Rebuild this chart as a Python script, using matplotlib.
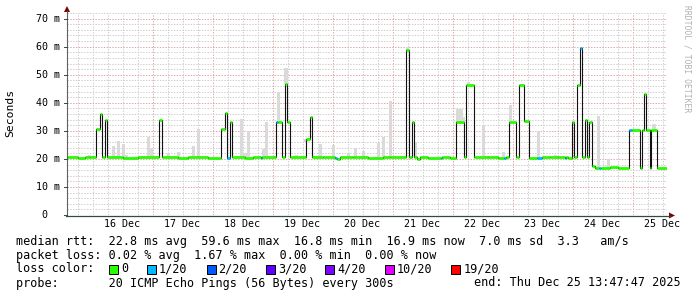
import numpy as np
import matplotlib.pyplot as plt
from matplotlib.patches import Rectangle, Polygon

plt.rcParams['font.family'] = ['DejaVu Sans Mono', 'DejaVu Sans']

# hours since Dec 15 00:00, graph window ends Thu Dec 25 13:47:47
t_start = 13.8
t_end = 253.8

# median rtt (ms) as steps: start hour, value, loss level index
seg_t = [13.8, 18.0, 21.0, 23.0, 25.5, 27.0, 27.7, 29.0, 29.7, 36.0,
         42.0, 50.7, 51.7, 58.0, 62.0, 70.0, 75.4, 77.0, 77.7, 79.0,
         79.7, 85.0, 88.0, 91.2, 91.8, 97.4, 98.3, 99.7, 101.0, 101.7,
         103.0, 109.4, 111.0, 111.7, 116.0, 120.8, 121.6, 123.1, 128.0, 134.0,
         140.0, 143.0, 149.4, 150.7, 151.7, 152.7, 153.7, 155.1, 158.0, 163.2,
         163.8, 167.0, 169.4, 172.7, 173.4, 176.7, 182.0, 186.0, 188.7, 189.3,
         190.7, 193.4, 194.7, 196.7, 198.7, 201.7, 203.7, 207.0, 210.0, 212.8,
         213.4, 214.0, 215.7, 216.7, 217.7, 219.0, 219.7, 221.0, 221.7, 222.7,
         223.7, 225.0, 226.7, 227.3, 231.0, 234.0, 238.7, 239.7, 243.0, 243.7,
         244.7, 245.4, 247.0, 247.4, 249.7]
seg_ms = [20.6, 20.4, 20.7, 20.5, 30.6, 36.1, 20.5, 33.7, 20.6, 20.4,
          20.6, 33.7, 20.5, 20.3, 20.6, 20.4, 30.6, 36.5, 20.3, 33.0,
          20.5, 20.3, 20.6, 20.3, 20.6, 33.3, 33.3, 20.5, 46.7, 33.3,
          20.5, 27.0, 35.1, 20.5, 20.7, 20.4, 20.0, 20.5, 20.7, 20.4,
          20.7, 20.5, 58.9, 20.5, 33.3, 20.5, 20.0, 20.6, 20.4, 20.3,
          20.6, 20.2, 33.3, 20.5, 46.4, 20.5, 20.7, 20.4, 20.3, 20.5,
          33.1, 20.5, 46.4, 33.6, 20.4, 20.3, 20.5, 20.7, 20.5, 20.3,
          20.6, 20.4, 33.3, 20.5, 46.4, 59.5, 20.5, 33.7, 20.5, 33.3,
          17.5, 16.9, 16.8, 16.9, 17.1, 16.9, 30.4, 30.2, 16.9, 30.2,
          43.1, 30.2, 16.9, 30.2, 16.9]
seg_loss = [0, 0, 0, 0, 0, 0, 0, 0, 0, 0,
            0, 0, 0, 0, 0, 0, 0, 0, 1, 0,
            0, 0, 0, 1, 0, 1, 0, 0, 0, 0,
            0, 0, 0, 0, 0, 1, 0, 0, 0, 0,
            0, 0, 0, 0, 0, 0, 0, 0, 0, 1,
            0, 0, 0, 0, 0, 0, 0, 0, 1, 0,
            0, 0, 0, 0, 0, 1, 0, 0, 0, 1,
            0, 0, 0, 0, 0, 1, 0, 0, 0, 0,
            0, 0, 1, 0, 0, 0, 1, 0, 0, 0,
            0, 0, 0, 0, 0]

# smoke (ping spread) tops, ms
smoke_t = [22.7, 32.3, 34.3, 36.3, 37.4, 46.3, 47.4, 54.3, 58.3, 64.5,
           66.3, 83.7, 85.0, 86.3, 92.3, 93.6, 98.3, 101.4, 105.6, 109.4,
           115.3, 120.3, 126.3, 129.3, 132.3, 138.3, 140.3, 143.3, 150.0, 153.3,
           170.0, 171.4, 172.2, 174.3, 180.3, 182.3, 188.3, 191.3, 202.3, 209.3,
           226.3, 230.3, 248.6]
smoke_top = [21.5, 24.6, 26.2, 25.4, 21.5, 27.7, 24.0, 22.0, 22.3, 24.5,
             30.8, 34.3, 22.0, 30.0, 23.5, 33.3, 44.0, 52.4, 21.5, 26.0,
             25.2, 24.8, 22.0, 24.0, 22.7, 25.8, 27.7, 40.7, 60.0, 26.0,
             37.7, 37.7, 34.8, 47.3, 32.1, 21.0, 22.3, 39.3, 30.0, 21.5,
             35.4, 20.0, 32.5]

day_labels = ['16 Dec', '17 Dec', '18 Dec', '19 Dec', '20 Dec',
              '21 Dec', '22 Dec', '23 Dec', '24 Dec', '25 Dec']
y_major = [0, 10, 20, 30, 40, 50, 60, 70]

loss_labels = ['0', '1/20', '2/20', '3/20', '4/20', '10/20', '19/20']
loss_colors = ['#26ff00', '#00b8ff', '#0059ff', '#5e00ff', '#7e00ff', '#dd00ff', '#ff0000']

rtt_line = 'median rtt:  22.8 ms avg  59.6 ms max  16.8 ms min  16.9 ms now  7.0 ms sd  3.3   am/s'
loss_line = 'packet loss: 0.02 % avg  1.67 % max  0.00 % min  0.00 % now'
probe_line = 'probe:       20 ICMP Echo Pings (56 Bytes) every 300s'
end_line = 'end: Thu Dec 25 13:47:47 2025'

W, H = 697, 297
fig = plt.figure(figsize=(W / 100, H / 100), dpi=100)
fig.patch.set_facecolor('white')

x0, x1, ytop, ybot = 67, 667, 13, 215
ax = fig.add_axes([x0 / W, (H - ybot) / H, (x1 - x0) / W, (ybot - ytop) / H])
ax.set_xlim(t_start, t_end)
ax.set_ylim(0, 72)
ax.axis('off')

minor_c, major_c = '#cfcfcf', '#e2a8a8'
dot = (0, (1.4, 1.4))
for h in np.arange(18, t_end, 6):
    major = (h % 24 == 0) and h >= 48
    ax.axvline(h, color=major_c if major else minor_c, lw=0.72, ls=dot, zorder=0.5)
for v in range(2, 73, 2):
    ax.axhline(v, color=major_c if v % 10 == 0 else minor_c, lw=0.72, ls=dot, zorder=0.5)

seg_t = np.array(seg_t)
seg_ms = np.array(seg_ms)
edges = np.append(seg_t, t_end)

idx = np.searchsorted(seg_t, smoke_t, side='right') - 1
bottoms = seg_ms[idx]
ax.bar(smoke_t, np.array(smoke_top) - bottoms, bottom=bottoms, width=1.35,
       color='#dadada', lw=0, zorder=1)

ax.step(edges, np.append(seg_ms, seg_ms[-1]), where='post', color='#111111', lw=0.8, zorder=2)
ax.hlines(seg_ms, edges[:-1], edges[1:], colors=[loss_colors[i] for i in seg_loss],
          lw=2.0, zorder=3)

# overlay in pixel coordinates for axes, arrows and legend
ov = fig.add_axes([0, 0, 1, 1], zorder=5)
ov.set_xlim(0, W)
ov.set_ylim(H, 0)
ov.axis('off')

axis_c = '#2c4d43'
arrow_c = '#7f0000'
ov.plot([x0, x0], [ybot + 1, 11], color='#606060', lw=0.8)
ov.plot([x0 - 1, 670], [ybot + 0.5, ybot + 0.5], color=axis_c, lw=0.9)
ov.add_patch(Polygon([[x0 - 3, 12], [x0 + 3, 12], [x0, 6]], closed=True, color=arrow_c, lw=0))
ov.add_patch(Polygon([[669, ybot - 2.5], [669, ybot + 3.5], [675, ybot + 0.5]], closed=True,
                     color=arrow_c, lw=0))

ppm = (ybot - ytop) / 72.0
for v in y_major:
    y = ybot - v * ppm
    lab = f'{v:2d} m' if v else ' 0'
    ov.text(36, y, lab, fontsize=7.2, ha='left', va='center', color='black')
    ov.plot([x0 - 3, x0], [y, y], color=axis_c, lw=0.7)

pph = (x1 - x0) / (t_end - t_start)
for k, lab in enumerate(day_labels):
    x = x0 + (36 + 24 * k - t_start) * pph
    ov.text(x, 224, lab, fontsize=7.2, ha='center', va='center', color='black')

ov.text(10, 113, 'Seconds', fontsize=8.2, rotation=90, ha='center', va='center', color='black')
ov.text(687, 59, 'RRDTOOL / TOBI OETIKER', fontsize=5.8, rotation=270, ha='center',
        va='center', color='#b0b0b0')

fs = 8.5
ov.text(16, 241, rtt_line, fontsize=fs, ha='left', va='center')
ov.text(16, 255, loss_line, fontsize=fs, ha='left', va='center')
ov.text(16, 269, 'loss color:', fontsize=fs, ha='left', va='center')
ov.text(16, 283, probe_line, fontsize=fs, ha='left', va='center')
ov.text(681, 283, end_line, fontsize=fs, ha='right', va='center')

bx = 109
for lab, col in zip(loss_labels, loss_colors):
    ov.add_patch(Rectangle((bx, 264.5), 9, 9, facecolor=col, edgecolor='black', lw=0.7))
    ov.text(bx + 12, 269, lab, fontsize=fs, ha='left', va='center')
    bx += 12 + len(lab) * 7.1 + 19

fig.savefig('out.png', dpi=100, facecolor='white')
